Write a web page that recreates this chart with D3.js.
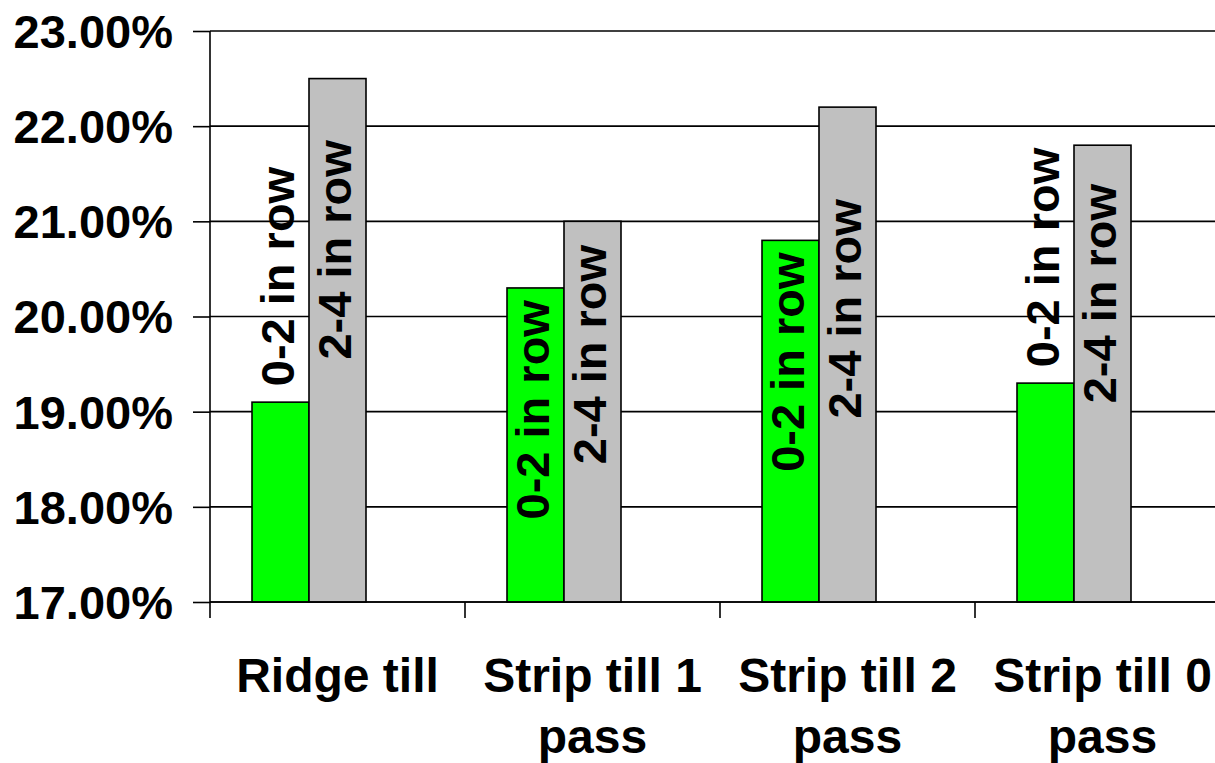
<!DOCTYPE html>
<html>
<head>
<meta charset="utf-8">
<script src="https://cdn.jsdelivr.net/npm/d3@7/dist/d3.min.js"></script>
<style>
  html, body { margin: 0; padding: 0; background: #fff; }
  svg { display: block; font-family: "Liberation Sans", Arial, sans-serif; font-weight: bold; }
</style>
</head>
<body>
<svg id="chart" width="1215" height="763"></svg>
<script>
// Tillage systems on the category axis
const categories = ["Ridge till", "Strip till 1 pass", "Strip till 2 pass", "Strip till 0 pass"];
// Series names (also used as the in-bar labels)
const seriesNames = ["0-2 in row", "2-4 in row"];
// Values in percent, one per category
const valuesInRow02 = [19.1, 20.3, 20.8, 19.3];
const valuesInRow24 = [22.5, 21.0, 22.2, 21.8];
// Y axis ticks (percent)
const yTicks = [17, 18, 19, 20, 21, 22, 23];

// Where each rotated series label is centred, in axis units
const labelCentre02 = [20.42, 19.02, 19.52, 20.62];
const labelCentre24 = [20.70, 19.60, 20.08, 20.24];

const seriesValues = [valuesInRow02, valuesInRow24];
const labelCentres = [labelCentre02, labelCentre24];
const colors = ["#00ff00", "#c0c0c0"];

const plot = { left: 210, right: 1230, top: 31, bottom: 602 };
const svg = d3.select("#chart");

const y = d3.scaleLinear().domain([17, 23]).range([plot.bottom, plot.top]);
const x0 = d3.scaleBand().domain(categories).range([plot.left, plot.right]).padding(0);
// three slots per category; the third is left empty
const x1 = d3.scaleBand().domain([0, 1, 2]).range([0, x0.bandwidth()])
  .paddingInner(0).paddingOuter(0.737);

// gridlines
svg.append("g").selectAll("line").data(yTicks).join("line")
  .attr("x1", plot.left).attr("x2", plot.right)
  .attr("y1", d => y(d)).attr("y2", d => y(d))
  .attr("stroke", "#000").attr("stroke-width", 1.6);

// bars
const rows = categories.map((c, i) => seriesNames.map((s, j) => ({
  cat: c, series: j, value: seriesValues[j][i], labelAt: labelCentres[j][i]
})));
const groups = svg.append("g").selectAll("g").data(rows).join("g")
  .attr("transform", (d, i) => `translate(${x0(categories[i])},0)`);

groups.selectAll("rect").data(d => d).join("rect")
  .attr("x", d => x1(d.series))
  .attr("width", x1.bandwidth())
  .attr("y", d => y(d.value))
  .attr("height", d => y(17) - y(d.value))
  .attr("fill", d => colors[d.series])
  .attr("stroke", "#000").attr("stroke-width", 1.6);

// y axis
const yAxis = d3.axisLeft(y).tickValues(yTicks).tickSize(17)
  .tickFormat(d => d3.format(".2f")(d) + "%");
const gy = svg.append("g").attr("transform", `translate(${plot.left},0)`).call(yAxis);
gy.select(".domain").attr("stroke", "#000").attr("stroke-width", 1.6)
  .attr("d", `M0,${plot.top}V${plot.bottom}`);
gy.selectAll(".tick line").attr("stroke", "#000").attr("stroke-width", 1.6);
gy.selectAll(".tick text")
  .attr("x", -37).attr("dy", "0.35em")
  .attr("font-size", 47).attr("font-weight", "bold")
  .attr("font-family", '"Liberation Sans", Arial, sans-serif')
  .attr("fill", "#000");

// x axis
const gx = svg.append("g").attr("transform", `translate(0,${plot.bottom})`);
gx.append("line").attr("x1", plot.left).attr("x2", plot.right)
  .attr("stroke", "#000").attr("stroke-width", 1.6);
const boundaries = categories.map(c => x0(c)).concat([plot.right]);
gx.selectAll("line.tick").data(boundaries).join("line").attr("class", "tick")
  .attr("x1", d => d).attr("x2", d => d).attr("y1", 0).attr("y2", 16)
  .attr("stroke", "#000").attr("stroke-width", 1.6);

// category labels, wrapped to the band width
const catText = gx.selectAll("text.cat").data(categories).join("text").attr("class", "cat")
  .attr("text-anchor", "middle").attr("font-size", 48).attr("fill", "#000")
  .attr("x", d => x0(d) + x0.bandwidth() / 2)
  .attr("y", 90);
catText.each(function(d) {
  const t = d3.select(this);
  const words = d.split(" ");
  const lines = [];
  let line = [];
  const probe = t.append("tspan");
  words.forEach(w => {
    const trial = line.concat([w]).join(" ");
    probe.text(trial);
    if (probe.node().getComputedTextLength() > x0.bandwidth() - 8 && line.length) {
      lines.push(line.join(" "));
      line = [w];
    } else {
      line.push(w);
    }
  });
  lines.push(line.join(" "));
  probe.remove();
  const cx = t.attr("x");
  lines.forEach((l, k) => {
    t.append("tspan").attr("x", cx).attr("dy", k === 0 ? 0 : 61).text(l);
  });
});

// rotated series labels
groups.selectAll("text.lbl").data(d => d).join("text").attr("class", "lbl")
  .attr("transform", d => `translate(${x1(d.series) + x1.bandwidth() / 2},${y(d.labelAt)}) rotate(-90)`)
  .attr("text-anchor", "middle").attr("dy", "0.28em")
  .attr("font-size", 47).attr("fill", "#000")
  .text(d => seriesNames[d.series]);
</script>
</body>
</html>
